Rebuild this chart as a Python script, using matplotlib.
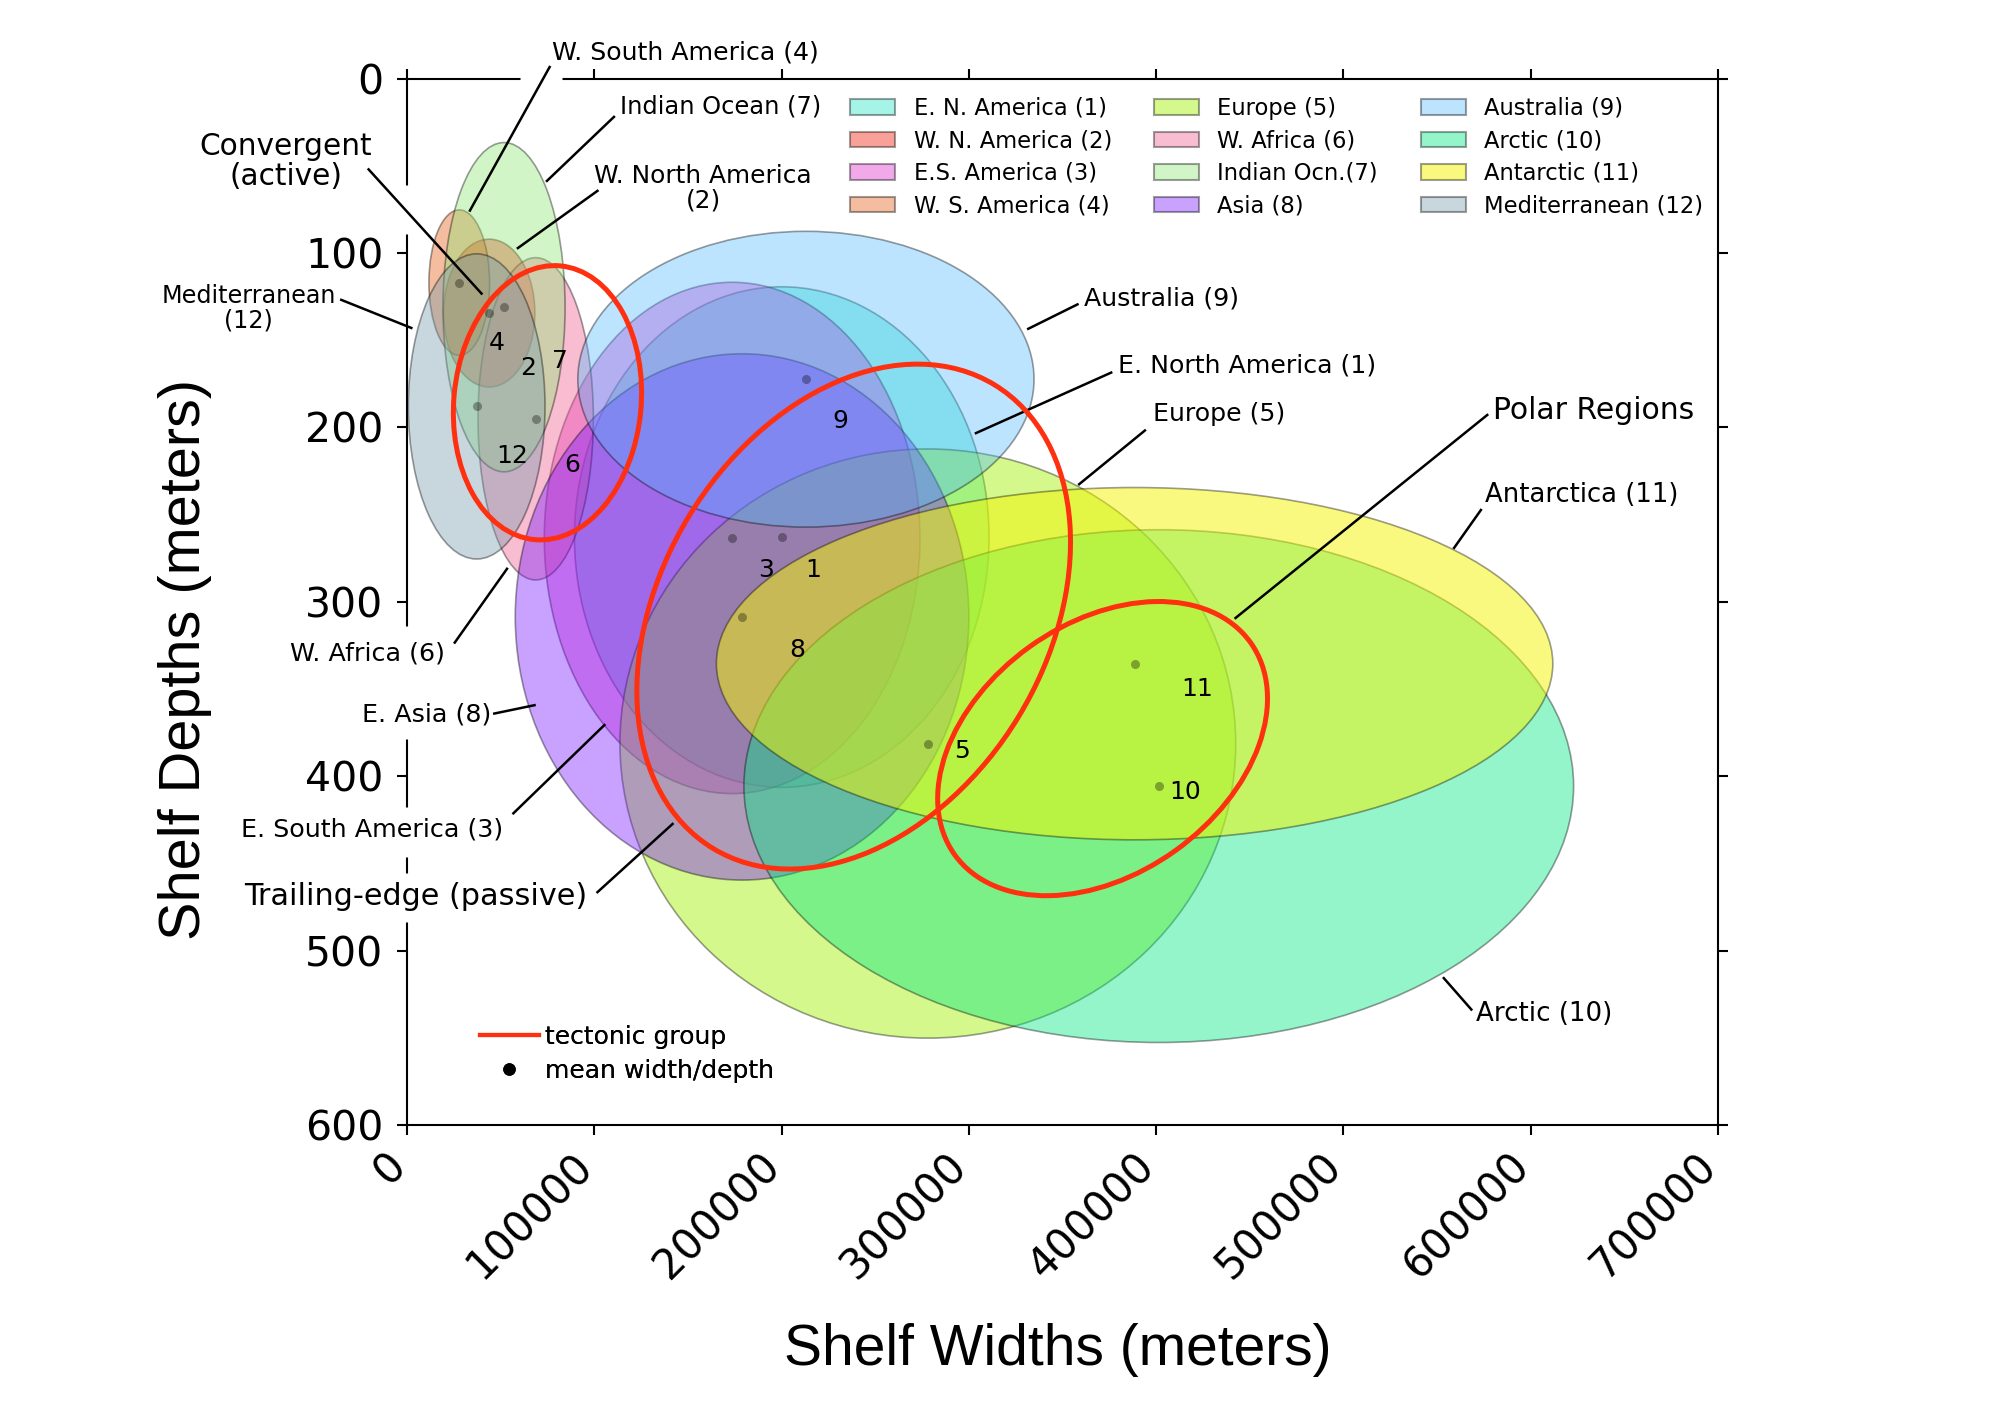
import matplotlib
matplotlib.use("Agg")
import matplotlib.pyplot as plt
from matplotlib.patches import Ellipse, Patch
from matplotlib.lines import Line2D
from matplotlib.transforms import Affine2D, ScaledTranslation
from matplotlib.colors import to_rgba

# REGION STATISTICS (mean and spread of shelf width / depth, meters)
region_labels = ["E. N. America (1)", "W. N. America (2)", "E.S. America (3)", "W. S. America (4)",
                 "Europe (5)", "W. Africa (6)", "Indian Ocn.(7)", "Asia (8)",
                 "Australia (9)", "Arctic (10)", "Antarctic (11)", "Mediterranean (12)"]
mean_width = [200100, 43900, 173600, 27900, 278100, 68700, 51800, 178900, 213000, 401400, 388500, 37200]
mean_depth = [262.9, 134.5, 263.4, 117.0, 381.3, 195.1, 131.1, 308.7, 172.4, 405.7, 335.5, 188.0]
sd_width = [110700, 24400, 100300, 16200, 164400, 30800, 32600, 121100, 121800, 221500, 223300, 36500]
sd_depth = [143.5, 42.4, 146.6, 41.7, 168.9, 92.4, 94.4, 150.9, 84.8, 147.0, 101.0, 87.5]

# TECTONIC GROUPS (center, semi-axes in width-meters, tilt in degrees)
group_names = ["Convergent (active)", "Trailing-edge (passive)", "Polar Regions"]
group_cx = [75000, 238500, 371400]
group_cy = [185.9, 308.5, 384.2]
group_a = [73400, 144800, 97200]
group_b = [50000, 103000, 66900]
group_tilt = [84.6, 58.7, 35.7]

x_ticks = [0, 100000, 200000, 300000, 400000, 500000, 600000, 700000]
y_ticks = [0, 100, 200, 300, 400, 500, 600]

# STYLE
colors = ["#00e1be", "#f01400", "#dc28c8", "#e65c11", "#a0f000", "#f25c8e",
          "#8ee675", "#7814ff", "#50b9ff", "#00e682", "#f5f500", "#759bac"]
alphas = [0.35, 0.4, 0.4, 0.4, 0.45, 0.4, 0.4, 0.4, 0.38, 0.42, 0.5, 0.4]
edge = (0, 0, 0, 0.38)
red = "#ff3010"
FONT = "DejaVu Sans"

# label text positions and leader lines (layout only)
callouts = [
    ("W. South America (4)", 77200, -14.8, "left", 18.2, (76150, -6.6), (33600, 75.7)),
    ("Indian Ocean (7)", 113700, 16.3, "left", 17.4, (110500, 22.0), (74700, 58.7)),
    ("Convergent\n(active)", -64700, 47.8, "center", 21.3, (-20500, 52.1), (39800, 123.3)),
    ("W. North America\n(2)", 158200, 63.0, "center", 17.9, (101700, 64.4), (59200, 97.2)),
    ("Mediterranean\n(12)", -84500, 131.7, "center", 17.2, (-35100, 126.9), (2300, 143.0)),
    ("W. Africa (6)", -62400, 329.7, "left", 18.3, (25500, 323.4), (53400, 281.1)),
    ("E. Asia (8)", -24200, 364.6, "left", 18.3, (46600, 364.1), (68100, 359.3)),
    ("E. South America (3)", -88600, 430.6, "left", 18.3, (56800, 421.3), (105400, 370.7)),
    ("Trailing-edge (passive)", -87000, 469.2, "left", 21.8, (101700, 466.5), (141800, 427.4)),
    ("Australia (9)", 361700, 126.3, "left", 18.2, (358000, 129.5), (331700, 143.5)),
    ("E. North America (1)", 379400, 164.7, "left", 18.2, (376000, 168.6), (303800, 203.3)),
    ("Europe (5)", 398100, 192.2, "left", 18.2, (394000, 201.8), (358900, 232.6)),
    ("Polar Regions", 580000, 190.3, "left", 21.5, (576800, 192.9), (442400, 309.3)),
    ("Antarctica (11)", 575800, 238.9, "left", 18.6, (573400, 247.4), (559100, 269.1)),
    ("Arctic (10)", 571000, 536.2, "left", 18.8, (568300, 533.8), (553600, 515.8)),
]
number_xy = [(217100, 281.8), (64700, 166.0), (191500, 281.8), (47900, 151.7),
             (296300, 385.5), (88400, 221.4), (81600, 162.2), (208500, 327.9),
             (231400, 196.2), (415700, 408.8), (422100, 350.1), (55900, 216.7)]
# breaks in the frame behind labels / leader lines
left_gaps = [(61, 89), (314, 378.5), (417.5, 446.6), (455.8, 483.9)]
top_gaps = [(60300, 82700)]


fig = plt.figure(figsize=(20, 14.28), dpi=100)
ax = fig.add_axes([0.2035, 0.2122, 0.6555, 0.7328])
ax.set_xlim(0, 700000)
ax.set_ylim(600, 0)

# region ellipses
for i in range(len(region_labels)):
    e = Ellipse((mean_width[i], mean_depth[i]), 2 * sd_width[i], 2 * sd_depth[i],
                facecolor=to_rgba(colors[i], alphas[i]), edgecolor=edge, lw=1.2, zorder=1)
    ax.add_patch(e)

# mean points
ax.plot(mean_width, mean_depth, "o", color="black", alpha=0.33, ms=6.5, mec="none", zorder=3)

# tectonic group ellipses, drawn in a frame with equal screen scaling
ax_w_px = 0.6555 * 2000
ax_h_px = 0.7328 * 1428
k = (ax_w_px / 700000) / (ax_h_px / 600)
for cx, cy, a, b, t in zip(group_cx, group_cy, group_a, group_b, group_tilt):
    tr = Affine2D().scale(1.0, -k).translate(cx, cy) + ax.transData
    ax.add_patch(Ellipse((0, 0), 2 * a, 2 * b, angle=t, transform=tr, fill=False,
                         edgecolor=red, lw=3.6, zorder=4))

# region numbers
for i, (x, y) in enumerate(number_xy):
    ax.text(x, y, str(i + 1), fontsize=18, family=FONT, ha="center", va="center", zorder=5)

# callouts
for text, tx, ty, ha, fs, p0, p1 in callouts:
    ax.text(tx, ty, text, ha=ha, va="center", fontsize=fs, family=FONT, multialignment="center",
            linespacing=1.05, clip_on=False, zorder=3)
    ax.plot([p0[0], p1[0]], [p0[1], p1[1]], color="black", lw=1.8, clip_on=False, zorder=3.5)

for y0, y1 in left_gaps:
    ax.plot([0, 0], [y0, y1], color="white", lw=5, clip_on=False, zorder=2.6, solid_capstyle="butt")
for x0, x1 in top_gaps:
    ax.plot([x0, x1], [0, 0], color="white", lw=5, clip_on=False, zorder=2.6, solid_capstyle="butt")

# axes styling
for s in ax.spines.values():
    s.set_linewidth(1.5)
ax.set_xticks(x_ticks)
ax.set_yticks(y_ticks)
ax.set_xticklabels([str(v) for v in x_ticks], rotation=45, ha="right", va="center",
                   rotation_mode="anchor", fontsize=30, family=FONT)
ax.set_yticklabels([str(v) for v in y_ticks], fontsize=29.5, family=FONT)
ax.tick_params(axis="both", direction="out", length=7, width=1.5, top=True, right=True)
ax.tick_params(axis="x", pad=18)
ax.tick_params(axis="y", pad=10)
shift = ScaledTranslation(-8 / 100, 0, fig.dpi_scale_trans)
for lab in ax.get_xticklabels():
    lab.set_transform(lab.get_transform() + shift)

fig.text(0.0923, 0.538, "Shelf Depths (meters)", rotation=90, ha="center", va="center",
         fontsize=41.5, family="Liberation Sans")
fig.text(0.529, 0.0546, "Shelf Widths (meters)", ha="center", va="center",
         fontsize=41, family="Liberation Sans")

# region legend in three columns
handles = [Patch(facecolor=to_rgba(colors[i], alphas[i]), edgecolor=edge, lw=1.5, label=region_labels[i])
           for i in range(len(region_labels))]
col_x = [0.338, 0.5698, 0.7735]
for c in range(3):
    leg = ax.legend(handles=handles[4 * c:4 * c + 4], loc="upper left", bbox_to_anchor=(col_x[c], 0.9825),
                    frameon=False, prop={"family": FONT, "size": 16.3}, handlelength=2.0,
                    handleheight=0.69, handletextpad=0.8, labelspacing=0.42, borderpad=0,
                    borderaxespad=0)
    ax.add_artist(leg)

# symbol legend
extra = [Line2D([], [], color=red, lw=3, label="tectonic group"),
         Line2D([], [], ls="none", marker="o", ms=8, color="black", label="mean width/depth")]
leg2 = ax.legend(handles=extra, loc="lower left", bbox_to_anchor=(0.0554, 0.040), frameon=False,
                 prop={"family": FONT, "size": 18}, handlelength=2.36, handletextpad=0.25,
                 labelspacing=0.41, borderpad=0, borderaxespad=0)
ax.add_artist(leg2)

fig.savefig("out.png", dpi=100)
